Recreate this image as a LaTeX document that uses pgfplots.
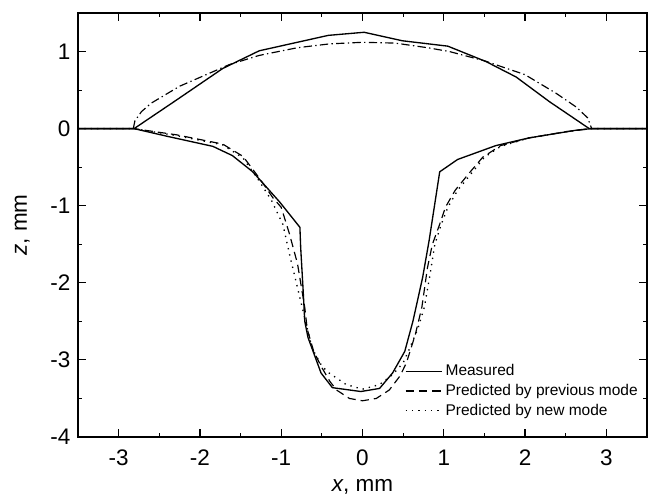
\documentclass[border=0pt]{standalone}
\usepackage{pgfplots}
\pgfplotsset{compat=1.18}
\usepackage{fontspec}
\setmainfont{Liberation Sans}

\begin{document}
\begin{tikzpicture}
\begin{axis}[
  at={(0,0)}, anchor=south west,
  scale only axis,
  width=341.4pt, height=254.4pt,
  xmin=-3.5, xmax=3.5, ymin=-4, ymax=1.5,
  xtick={-3,-2,-1,0,1,2,3},
  ytick={-4,-3,-2,-1,0,1},
  minor tick num=1,
  tick align=inside,
  major tick length=5pt, minor tick length=2.6pt,
  axis line style={line width=0.8pt},
  every tick/.style={line width=0.7pt, black},
  /pgf/number format/assume math mode=true,
  tick label style={font=\fontsize{13.5}{15}\selectfont},
  xticklabel style={yshift=-4pt},
  yticklabel style={xshift=-1pt},
  xlabel={\textit{x}, mm},
  ylabel={\textit{z}, mm},
  every axis x label/.style={at={(axis description cs:0.5,-0.118)}, anchor=center,
    font=\fontsize{13.5}{15}\selectfont},
  every axis y label/.style={at={(axis description cs:-0.098,0.5)}, rotate=90, anchor=center,
    font=\fontsize{13.5}{15}\selectfont},
  legend style={draw=none, fill=none, font=\fontsize{9.3}{11}\selectfont,
    at={(axis description cs:0.574,0.172)}, anchor=north west,
    inner sep=0pt, row sep=3.4pt,
    nodes={inner sep=0pt, text height=6.8pt, text depth=1.6pt}},
  legend cell align=left,
  legend image code/.code={\draw[#1] (0pt,0pt) -- (21.6pt,0pt);},
  /tikz/every odd column/.append style={column sep=2pt},
]
% measured, lower profile
\addplot[black, line width=0.8pt] coordinates {
(-3.5,0) (-2.81,0) (-2.4,-0.1) (-1.84,-0.23) (-1.6,-0.35) (-1.35,-0.56)
(-1.02,-0.95) (-0.77,-1.28) (-0.76,-1.55) (-0.73,-2.1) (-0.71,-2.5)
(-0.67,-2.71) (-0.51,-3.17) (-0.37,-3.36) (-0.02,-3.41) (0.21,-3.37)
(0.37,-3.17) (0.52,-2.89) (0.62,-2.5) (0.74,-1.93) (0.82,-1.45)
(0.95,-0.56) (1.17,-0.40) (1.64,-0.22) (2.05,-0.12) (2.63,-0.02)
(2.81,0) (3.5,0)
};
\addlegendentry{Measured}
% previous mode, lower profile
\addplot[black, line width=0.7pt, dash pattern=on 5pt off 3pt] coordinates {
(-3.5,0) (-2.81,0) (-2.29,-0.08) (-1.72,-0.2) (-1.47,-0.36) (-1.27,-0.64)
(-1.1,-0.9) (-1.0,-1.02) (-0.9,-1.36) (-0.8,-1.75) (-0.71,-2.32)
(-0.68,-2.6) (-0.6,-2.89) (-0.5,-3.1) (-0.4,-3.28) (-0.32,-3.39)
(-0.16,-3.50) (0,-3.53) (0.17,-3.50) (0.33,-3.39) (0.46,-3.21)
(0.54,-3.04) (0.65,-2.67) (0.73,-2.32) (0.8,-1.80) (0.86,-1.50)
(0.95,-1.24) (1.02,-1.02) (1.14,-0.80) (1.31,-0.58) (1.48,-0.37)
(1.7,-0.22) (2.05,-0.12) (2.5,-0.04) (2.81,0) (3.5,0)
};
\addlegendentry{Predicted by previous mode}
% new mode, lower profile
\addplot[black, line width=0.8pt, dash pattern=on 0.8pt off 3pt] coordinates {
(-3.5,0) (-2.81,0) (-2.29,-0.09) (-1.72,-0.21) (-1.47,-0.38) (-1.27,-0.68)
(-1.12,-0.93) (-0.98,-1.24) (-0.88,-1.71) (-0.80,-2.06) (-0.75,-2.28)
(-0.70,-2.5) (-0.62,-2.85) (-0.5,-3.08) (-0.41,-3.17) (-0.2,-3.32)
(0,-3.38) (0.21,-3.32) (0.37,-3.19) (0.5,-3.04) (0.58,-2.85)
(0.68,-2.6) (0.76,-2.32) (0.83,-1.9) (0.89,-1.5) (0.97,-1.24)
(1.05,-1.02) (1.17,-0.80) (1.34,-0.58) (1.5,-0.37) (1.7,-0.23)
(2.05,-0.12) (2.5,-0.04) (2.81,0) (3.5,0)
};
\addlegendentry{Predicted by new mode}
% measured, upper profile
\addplot[black, line width=0.8pt, forget plot] coordinates {
(-3.5,0) (-2.81,0) (-2.29,0.37) (-1.72,0.78) (-1.27,1.01) (-0.42,1.21)
(0.02,1.25) (0.49,1.14) (1.05,1.07) (1.52,0.87) (1.89,0.67)
(2.3,0.35) (2.79,0) (3.5,0)
};
% predicted, upper profile
\addplot[black, line width=0.7pt, dash pattern=on 5pt off 2pt on 0.8pt off 2pt, forget plot] coordinates {
(-2.82,0) (-2.8,0.1) (-2.72,0.22) (-2.6,0.33) (-2.25,0.55) (-1.64,0.83)
(-1.27,0.95) (-0.8,1.05) (-0.4,1.1) (0,1.12) (0.4,1.11) (0.8,1.05)
(1.07,1.0) (1.5,0.88) (2.0,0.70) (2.38,0.46) (2.63,0.28) (2.77,0.14)
(2.82,0)
};
\end{axis}
\path (-46.8pt,-37.8pt) rectangle (342.6pt,262.2pt);
\end{tikzpicture}
\end{document}
